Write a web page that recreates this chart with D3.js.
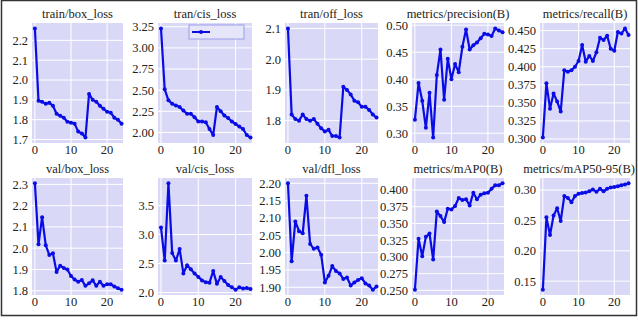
<!DOCTYPE html>
<html>
<head>
<meta charset="utf-8">
<script src="https://cdn.jsdelivr.net/npm/d3@7"></script>
<style>
  html, body { margin: 0; padding: 0; background: #fff; }
  svg { display: block; }
</style>
</head>
<body>
<div id="chart"></div>
<script>
// epochs 0..24
const epochs = d3.range(0, 25);

const titles = [
  "train/box_loss", "tran/cis_loss", "tran/off_loss", "metrics/precision(B)", "metrics/recall(B)",
  "val/box_loss", "val/cis_loss", "val/dfl_loss", "metrics/mAP0(B)", "metrics/mAP50-95(B)"
];

const trainBoxLoss = [2.26, 1.895, 1.89, 1.88, 1.885, 1.87, 1.83, 1.82, 1.81, 1.79, 1.785, 1.78, 1.74, 1.73, 1.71,
  1.93, 1.90, 1.89, 1.87, 1.855, 1.84, 1.835, 1.81, 1.80, 1.78];
const trainClsLoss = [3.23, 2.51, 2.38, 2.34, 2.32, 2.30, 2.26, 2.22, 2.22, 2.18, 2.13, 2.13, 2.12, 2.04, 1.97,
  2.30, 2.25, 2.20, 2.17, 2.13, 2.10, 2.07, 2.04, 1.97, 1.94];
const trainOffLoss = [2.10, 1.82, 1.805, 1.80, 1.82, 1.805, 1.80, 1.805, 1.79, 1.775, 1.765, 1.77, 1.75, 1.75, 1.745,
  1.91, 1.90, 1.885, 1.865, 1.86, 1.845, 1.845, 1.835, 1.82, 1.81];
const precision = [0.325, 0.393, 0.36, 0.31, 0.375, 0.292, 0.408, 0.455, 0.362, 0.438, 0.40, 0.428, 0.413, 0.46, 0.492,
  0.455, 0.463, 0.468, 0.476, 0.484, 0.483, 0.48, 0.494, 0.49, 0.487];
const recall = [0.302, 0.377, 0.342, 0.363, 0.352, 0.338, 0.395, 0.393, 0.395, 0.40, 0.408, 0.43, 0.407, 0.415, 0.408,
  0.42, 0.44, 0.437, 0.443, 0.425, 0.422, 0.448, 0.446, 0.453, 0.444];
const valBoxLoss = [2.305, 2.018, 2.146, 2.014, 1.968, 1.976, 1.888, 1.918, 1.907, 1.90, 1.869, 1.853, 1.842, 1.85, 1.823,
  1.835, 1.849, 1.823, 1.842, 1.823, 1.83, 1.83, 1.82, 1.812, 1.805];
const valClsLoss = [3.12, 2.55, 3.88, 2.68, 2.55, 2.75, 2.33, 2.47, 2.40, 2.33, 2.27, 2.21, 2.18, 2.17, 2.37,
  2.15, 2.27, 2.20, 2.13, 2.09, 2.05, 2.09, 2.07, 2.08, 2.06];
const valDflLoss = [2.20, 1.975, 2.09, 2.062, 2.056, 2.164, 2.025, 2.011, 2.015, 1.994, 1.914, 1.933, 1.961, 1.947, 1.94,
  1.924, 1.928, 1.905, 1.914, 1.921, 1.926, 1.911, 1.905, 1.893, 1.902];
const mAP0 = [0.251, 0.327, 0.301, 0.33, 0.335, 0.296, 0.368, 0.361, 0.352, 0.372, 0.371, 0.376, 0.388, 0.385, 0.386,
  0.377, 0.396, 0.386, 0.393, 0.395, 0.396, 0.402, 0.407, 0.407, 0.41];
const mAP5095 = [0.136, 0.255, 0.226, 0.258, 0.27, 0.249, 0.29, 0.287, 0.28, 0.29, 0.294, 0.295, 0.296, 0.298, 0.301,
  0.297, 0.302, 0.298, 0.302, 0.304, 0.305, 0.306, 0.308, 0.309, 0.311];

const seriesList = [trainBoxLoss, trainClsLoss, trainOffLoss, precision, recall,
  valBoxLoss, valClsLoss, valDflLoss, mAP0, mAP5095];

const yTicks = [
  [1.7, 1.8, 1.9, 2.0, 2.1, 2.2],
  [2.00, 2.25, 2.50, 2.75, 3.00, 3.25],
  [1.8, 1.9, 2.0, 2.1],
  [0.30, 0.35, 0.40, 0.45, 0.50],
  [0.300, 0.325, 0.350, 0.375, 0.400, 0.425, 0.450],
  [1.8, 1.9, 2.0, 2.1, 2.2, 2.3],
  [2.0, 2.5, 3.0, 3.5],
  [1.90, 1.95, 2.00, 2.05, 2.10, 2.15, 2.20],
  [0.250, 0.275, 0.300, 0.325, 0.350, 0.375, 0.400],
  [0.15, 0.20, 0.25, 0.30]
];
const yFormats = [".1f", ".2f", ".1f", ".2f", ".3f", ".1f", ".1f", ".2f", ".3f", ".2f"];
const xTicks = [0, 10, 20];

// layout
const width = 638, height = 320;
const cols = [[32, 123], [158, 252], [285, 378], [412, 504], [540, 630]];
const rows = [[23, 143], [178, 295]];
const lineColor = "#0a0ce6";
const font = "'Liberation Serif', 'Times New Roman', serif";
const fontSize = 12.5;

const svg = d3.select("#chart").append("svg")
  .attr("width", width)
  .attr("height", height);

svg.append("rect").attr("width", width).attr("height", height).attr("fill", "#fff");

seriesList.forEach((values, i) => {
  const [x0, x1] = cols[i % 5];
  const [y0, y1] = rows[Math.floor(i / 5)];

  // matplotlib-like 5% margin on y
  const [lo, hi] = d3.extent(values);
  const pad = (hi - lo) * 0.05;

  const x = d3.scaleLinear().domain([-0.8, 24.4]).range([x0, x1]);
  const y = d3.scaleLinear().domain([lo - pad, hi + pad]).range([y1, y0]);

  const g = svg.append("g");

  g.append("rect")
    .attr("x", x0).attr("y", y0)
    .attr("width", x1 - x0).attr("height", y1 - y0)
    .attr("fill", "#d9d9f7");

  // grid
  g.selectAll(".gy").data(yTicks[i]).join("line")
    .attr("x1", x0).attr("x2", x1)
    .attr("y1", d => y(d)).attr("y2", d => y(d))
    .attr("stroke", "#fff").attr("stroke-width", 1);
  g.selectAll(".gx").data(xTicks).join("line")
    .attr("x1", d => x(d)).attr("x2", d => x(d))
    .attr("y1", y0).attr("y2", y1)
    .attr("stroke", "#fff").attr("stroke-width", 1);

  // tick labels
  const fmt = d3.format(yFormats[i]);
  g.selectAll(".ty").data(yTicks[i]).join("text")
    .attr("x", x0 - 4)
    .attr("y", d => y(d))
    .attr("dy", "0.35em")
    .attr("text-anchor", "end")
    .attr("font-family", font)
    .attr("font-size", fontSize)
    .attr("fill", "#222")
    .text(d => fmt(d));
  g.selectAll(".tx").data(xTicks).join("text")
    .attr("x", d => x(d))
    .attr("y", y1 + 11)
    .attr("text-anchor", "middle")
    .attr("font-family", font)
    .attr("font-size", fontSize)
    .attr("fill", "#222")
    .text(d => d);

  const title = g.append("text")
    .attr("x", (x0 + x1) / 2)
    .attr("y", y0 - 5)
    .attr("text-anchor", "middle")
    .attr("font-family", font)
    .attr("font-size", fontSize)
    .attr("fill", "#222")
    .text(titles[i]);
  // keep long titles inside the frame
  const tw = title.node().getComputedTextLength();
  const over = (x0 + x1) / 2 + tw / 2 - (width - 3);
  if (over > 0) title.attr("x", (x0 + x1) / 2 - over);

  const pts = epochs.map((e, k) => [e, values[k]]);

  g.append("path")
    .datum(pts)
    .attr("fill", "none")
    .attr("stroke", lineColor)
    .attr("stroke-width", 2.2)
    .attr("stroke-linejoin", "round")
    .attr("d", d3.line().x(d => x(d[0])).y(d => y(d[1])));

  g.selectAll(".pt").data(pts).join("circle")
    .attr("cx", d => x(d[0]))
    .attr("cy", d => y(d[1]))
    .attr("r", 2)
    .attr("fill", lineColor);

  // empty legend box only in the second panel
  if (i === 1) {
    const lx = x1 - 63, ly = y0 + 2;
    g.append("rect")
      .attr("x", lx).attr("y", ly)
      .attr("width", 55).attr("height", 14)
      .attr("fill", "#e6e6fa")
      .attr("stroke", "#9c9cea").attr("stroke-width", 1);
    g.append("line")
      .attr("x1", lx + 3).attr("x2", lx + 21)
      .attr("y1", ly + 7).attr("y2", ly + 7)
      .attr("stroke", lineColor).attr("stroke-width", 2);
    g.append("circle")
      .attr("cx", lx + 12).attr("cy", ly + 7).attr("r", 2)
      .attr("fill", lineColor);
  }
});

// outer frame
svg.append("rect")
  .attr("x", 1.5).attr("y", 0.5)
  .attr("width", 635).attr("height", 315)
  .attr("fill", "none")
  .attr("stroke", "#333")
  .attr("stroke-width", 1.5);
</script>
</body>
</html>
